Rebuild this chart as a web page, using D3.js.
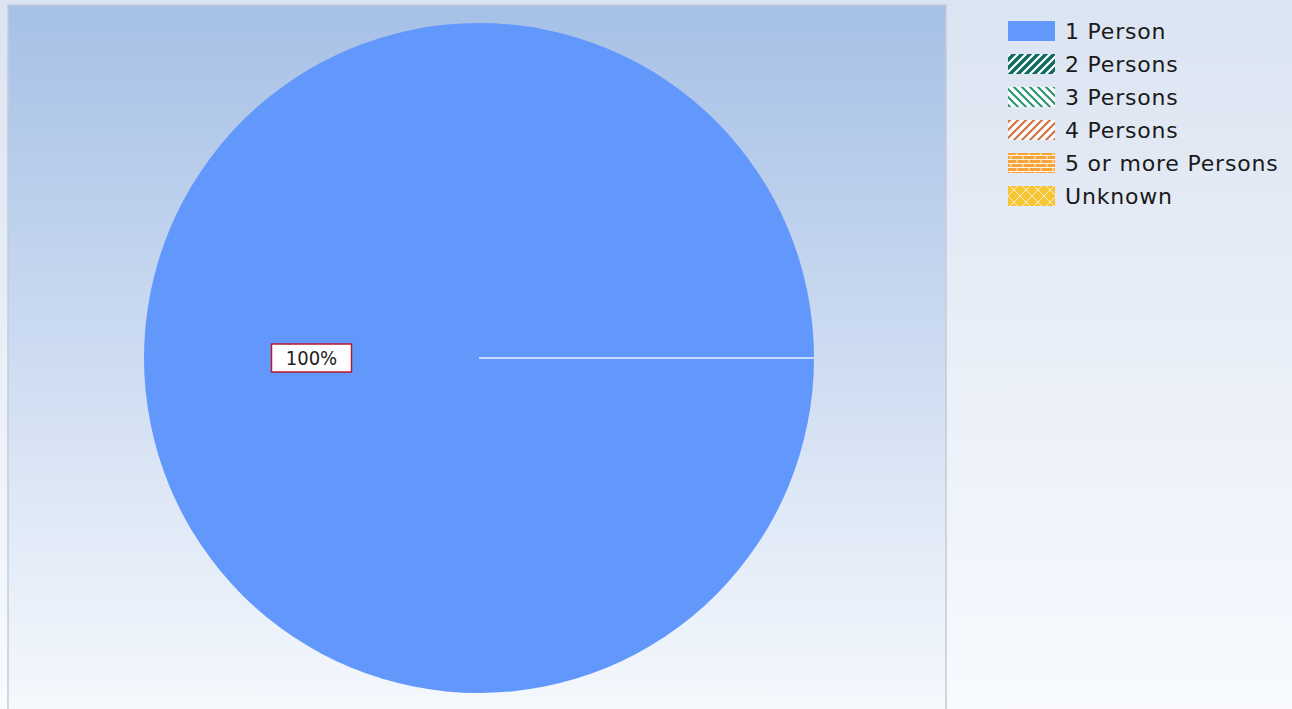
<!DOCTYPE html>
<html>
<head>
<meta charset="utf-8">
<script src="https://d3js.org/d3.v7.min.js"></script>
<style>
  body { margin: 0; background: #fff; }
  svg { display: block; }
</style>
</head>
<body>
<svg width="1292" height="709"></svg>
<script>
// chart data
var categories = ['1 Person', '2 Persons', '3 Persons', '4 Persons', '5 or more Persons', 'Unknown'];
var values = [100, 0, 0, 0, 0, 0];
var labels = ['100%', '', '', '', '', ''];

var svg = d3.select('svg');
var W = 1292, H = 709;
var defs = svg.append('defs');

// page background
var pageGrad = defs.append('linearGradient').attr('id', 'pageGrad').attr('x1', 0).attr('y1', 0).attr('x2', 0).attr('y2', 1);
pageGrad.append('stop').attr('offset', '0%').attr('stop-color', '#dbe4f2');
pageGrad.append('stop').attr('offset', '100%').attr('stop-color', '#f8fafe');
svg.append('rect').attr('width', W).attr('height', H).attr('fill', 'url(#pageGrad)');

// plot area background
var plotGrad = defs.append('linearGradient').attr('id', 'plotGrad').attr('x1', 0).attr('y1', 0).attr('x2', 0).attr('y2', 1);
plotGrad.append('stop').attr('offset', '0%').attr('stop-color', '#a6c0e6');
plotGrad.append('stop').attr('offset', '100%').attr('stop-color', '#f6f9fd');
var plot = {x: 8, y: 5, w: 938, h: 710};
svg.append('rect').attr('x', plot.x).attr('y', plot.y).attr('width', plot.w).attr('height', plot.h)
  .attr('fill', 'url(#plotGrad)').attr('stroke', '#c3ccd8').attr('stroke-width', 1.5);

// patterns
function stripes(id, bg, fg, dir) {
  var p = defs.append('pattern').attr('id', id).attr('patternUnits', 'userSpaceOnUse')
    .attr('width', 8).attr('height', 8);
  p.append('rect').attr('width', 8).attr('height', 8).attr('fill', bg);
  var d = dir > 0 ? 'M-2,2 L2,-2 M0,8 L8,0 M6,10 L10,6' : 'M-2,6 L2,10 M0,0 L8,8 M6,-2 L10,2';
  p.append('path').attr('d', d).attr('stroke', fg).attr('stroke-width', 2.2);
  return 'url(#' + id + ')';
}
var fills = [];
fills.push('#6298fc');
fills.push(stripes('p2', '#106b5f', '#ffffff', 1));
fills.push(stripes('p3', '#ffffff', '#2e9670', -1));
fills.push(stripes('p4', '#ffffff', '#cd7645', 1));
var brick = defs.append('pattern').attr('id', 'p5').attr('patternUnits', 'userSpaceOnUse').attr('width', 12).attr('height', 8);
brick.append('rect').attr('width', 12).attr('height', 8).attr('fill', '#f6a33a');
brick.append('path').attr('d', 'M0,0.5 H12 M0,4.5 H12 M3,0 V4 M9,4 V8').attr('stroke', '#fff3e0').attr('stroke-width', 1);
fills.push('url(#p5)');
var diam = defs.append('pattern').attr('id', 'p6').attr('patternUnits', 'userSpaceOnUse').attr('width', 12).attr('height', 12);
diam.append('rect').attr('width', 12).attr('height', 12).attr('fill', '#f6c535');
diam.append('path').attr('d', 'M0,0 L12,12 M12,0 L0,12').attr('stroke', '#fdeec0').attr('stroke-width', 1);
fills.push('url(#p6)');

var color = d3.scaleOrdinal().domain(categories).range(fills);

// pie
var cx = 479, cy = 358, r = 335;
var pie = d3.pie().sort(null).value(function(d) { return d.v; })
  .startAngle(Math.PI / 2).endAngle(Math.PI / 2 + 2 * Math.PI);
var data = categories.map(function(c, i) { return {c: c, v: values[i], l: labels[i]}; });
var arcs = pie(data);
var arc = d3.arc().innerRadius(0).outerRadius(r);
var g = svg.append('g').attr('transform', 'translate(' + cx + ',' + cy + ')');
g.selectAll('path.slice').data(arcs.filter(function(a) { return a.value > 0; })).enter().append('path')
  .attr('class', 'slice')
  .attr('d', arc)
  .attr('fill', function(a) { return color(a.data.c); });
// slice boundary
arcs.filter(function(a) { return a.value > 0; }).forEach(function(a) {
  var ang = a.startAngle - Math.PI / 2;
  g.append('line').attr('x1', 0).attr('y1', 0)
    .attr('x2', r * Math.cos(ang)).attr('y2', r * Math.sin(ang))
    .attr('stroke', '#eef3fb').attr('stroke-width', 1.5);
});

// labels
var labelArc = d3.arc().innerRadius(r * 0.5).outerRadius(r * 0.5);
arcs.filter(function(a) { return a.value > 0; }).forEach(function(a) {
  var c = labelArc.centroid(a);
  var lg = g.append('g').attr('transform', 'translate(' + c[0] + ',' + c[1] + ')');
  var t = lg.append('text').attr('text-anchor', 'middle').attr('dy', '0.36em')
    .attr('font-family', 'DejaVu Sans Condensed, DejaVu Sans, sans-serif').attr('font-size', 20)
    .attr('fill', '#222').text(a.data.l);
  var bb = t.node().getBBox();
  lg.insert('rect', 'text').attr('x', -40).attr('y', -14)
    .attr('width', 80).attr('height', 28)
    .attr('fill', '#ffffff').attr('stroke', '#b8152e').attr('stroke-width', 1.5);
});

// legend
var legend = svg.append('g').attr('transform', 'translate(1008,31)');
var rows = legend.selectAll('g').data(categories).enter().append('g')
  .attr('transform', function(d, i) { return 'translate(0,' + (i * 33) + ')'; });
rows.append('rect').attr('x', 0).attr('y', -10).attr('width', 47).attr('height', 20)
  .attr('fill', function(d) { return color(d); });
rows.append('text').attr('x', 57).attr('y', 0).attr('dy', '0.36em')
  .attr('font-family', 'DejaVu Sans, sans-serif').attr('font-size', 22).attr('letter-spacing', 0.8)
  .attr('fill', '#1a1a1a')
  .text(function(d) { return d; });
</script>
</body>
</html>
